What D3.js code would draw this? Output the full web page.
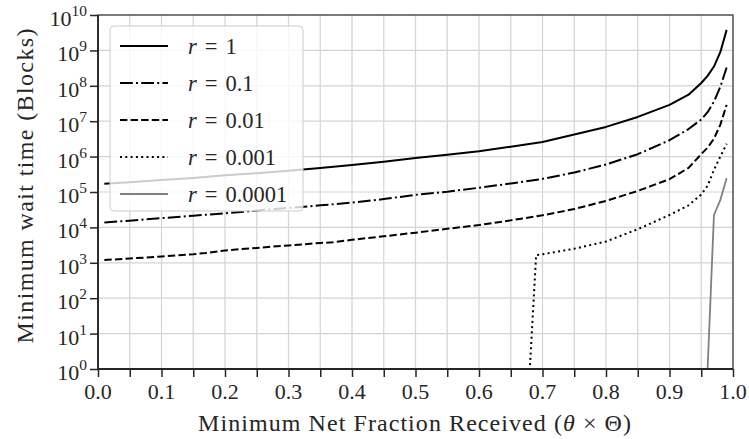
<!DOCTYPE html>
<html>
<head>
<meta charset="utf-8">
<script src="https://cdn.jsdelivr.net/npm/d3@7"></script>
<style>
  html, body { margin: 0; padding: 0; background: #fff; }
  svg { display: block; }
  text { font-family: "Liberation Serif", "DejaVu Serif", serif; fill: #262626; }
</style>
</head>
<body>
<svg id="chart" width="749" height="439"></svg>
<script>
// ---- Data ----
const xR1 = [0.01, 0.05, 0.1, 0.15, 0.2, 0.25, 0.3, 0.35, 0.4, 0.45, 0.5, 0.55, 0.6, 0.65, 0.7, 0.75, 0.8, 0.85, 0.9, 0.93, 0.95, 0.96, 0.97, 0.98, 0.99];
const yR1 = [1.7e5, 1.9e5, 2.2e5, 2.5e5, 2.95e5, 3.4e5, 4.0e5, 4.8e5, 5.75e5, 7.1e5, 9.1e5, 1.12e6, 1.41e6, 1.9e6, 2.6e6, 4.2e6, 6.9e6, 1.32e7, 2.9e7, 5.6e7, 1.2e8, 1.9e8, 3.5e8, 8.9e8, 3.8e9];

const xR01 = [0.01, 0.05, 0.1, 0.15, 0.2, 0.25, 0.3, 0.35, 0.4, 0.45, 0.5, 0.55, 0.6, 0.65, 0.7, 0.75, 0.8, 0.85, 0.9, 0.93, 0.95, 0.96, 0.97, 0.98, 0.99];
const yR01 = [1.38e4, 1.55e4, 1.82e4, 2.14e4, 2.5e4, 3.0e4, 3.55e4, 4.2e4, 5.0e4, 6.3e4, 8.3e4, 1.02e5, 1.32e5, 1.74e5, 2.35e5, 3.55e5, 6.0e5, 1.17e6, 2.9e6, 6.0e6, 1.12e7, 1.8e7, 3.55e7, 9.3e7, 3.3e8];

const xR001 = [0.01, 0.05, 0.1, 0.15, 0.17, 0.2, 0.25, 0.3, 0.35, 0.37, 0.4, 0.45, 0.5, 0.55, 0.6, 0.65, 0.7, 0.75, 0.8, 0.85, 0.9, 0.93, 0.95, 0.96, 0.97, 0.98, 0.99];
const yR001 = [1.2e3, 1.32e3, 1.51e3, 1.74e3, 1.9e3, 2.24e3, 2.63e3, 3.1e3, 3.63e3, 3.8e3, 4.47e3, 5.6e3, 7.1e3, 9.1e3, 1.17e4, 1.58e4, 2.2e4, 3.3e4, 5.6e4, 1.07e5, 2.3e5, 4.8e5, 1.17e6, 1.8e6, 3.2e6, 7.9e6, 2.9e7];

const xR0001 = [0.01, 0.68, 0.69, 0.7, 0.75, 0.8, 0.85, 0.9, 0.93, 0.95, 0.96, 0.97, 0.98, 0.99];
const yR0001 = [1, 1, 1.66e3, 1.74e3, 2.5e3, 4.0e3, 8.9e3, 2.24e4, 4.2e4, 8.5e4, 1.5e5, 4.2e5, 1.0e6, 2.3e6];

const xR00001 = [0.01, 0.96, 0.97, 0.98, 0.99];
const yR00001 = [1, 1, 2.24e4, 5.9e4, 2.45e5];

const seriesNames = ["1", "0.1", "0.01", "0.001", "0.0001"];
const xTickLabels = ["0.0", "0.1", "0.2", "0.3", "0.4", "0.5", "0.6", "0.7", "0.8", "0.9", "1.0"];
const yTickExps = [0, 1, 2, 3, 4, 5, 6, 7, 8, 9, 10];

// ---- Styles ----
const styles = [
  { color: "#000", width: 2, dash: null },
  { color: "#000", width: 2, dash: "12.8,3.2,2,3.2" },
  { color: "#000", width: 2, dash: "7.4,3.2" },
  { color: "#000", width: 2, dash: "2,3.3" },
  { color: "#808080", width: 1.8, dash: null }
];

const series = [
  { name: seriesNames[0], xs: xR1, ys: yR1 },
  { name: seriesNames[1], xs: xR01, ys: yR01 },
  { name: seriesNames[2], xs: xR001, ys: yR001 },
  { name: seriesNames[3], xs: xR0001, ys: yR0001 },
  { name: seriesNames[4], xs: xR00001, ys: yR00001 }
];

const svg = d3.select("#chart");
const L = 98, R = 733, T = 15, B = 369;

const x = d3.scaleLinear().domain([0, 1]).range([L, R]);
const y = d3.scaleLog().domain([1, 1e10]).range([B, T]);

// grid
const gridX = d3.range(0, 21).map(i => i * 0.05);
svg.append("g").selectAll("line").data(gridX).join("line")
  .attr("x1", d => x(d)).attr("x2", d => x(d))
  .attr("y1", T).attr("y2", B)
  .attr("stroke", "#d4d4d4").attr("stroke-width", 1.2);
svg.append("g").selectAll("line").data(yTickExps).join("line")
  .attr("x1", L).attr("x2", R)
  .attr("y1", d => y(Math.pow(10, d))).attr("y2", d => y(Math.pow(10, d)))
  .attr("stroke", "#d4d4d4").attr("stroke-width", 1.2);

// clip
svg.append("defs").append("clipPath").attr("id", "clip")
  .append("rect").attr("x", L).attr("y", T - 2).attr("width", R - L).attr("height", B - T + 2);

const line = d3.line().x(d => x(d[0])).y(d => y(d[1]));
const gl = svg.append("g").attr("clip-path", "url(#clip)");
series.forEach((s, i) => {
  const pts = s.xs.map((v, j) => [v, s.ys[j]]);
  gl.append("path").datum(pts)
    .attr("d", line)
    .attr("fill", "none")
    .attr("stroke", styles[i].color)
    .attr("stroke-width", styles[i].width)
    .attr("stroke-dasharray", styles[i].dash)
    .attr("stroke-linejoin", "round");
});

// spines
svg.append("rect").attr("x", L).attr("y", T).attr("width", R - L).attr("height", B - T)
  .attr("fill", "none").attr("stroke", "#333").attr("stroke-width", 1.2);
svg.append("line").attr("x1", L).attr("x2", L).attr("y1", T).attr("y2", B).attr("stroke", "#262626").attr("stroke-width", 1.8);
svg.append("line").attr("x1", L).attr("x2", R).attr("y1", B).attr("y2", B).attr("stroke", "#262626").attr("stroke-width", 1.8);

// x axis ticks
const xAxis = d3.axisBottom(x).tickValues(gridX).tickSize(8).tickFormat("");
const gx = svg.append("g").attr("transform", `translate(0,${B})`).call(xAxis);
gx.select(".domain").remove();
gx.selectAll(".tick line").attr("stroke", "#262626").attr("stroke-width", 1.5);
svg.append("g").selectAll("text").data(xTickLabels).join("text")
  .attr("x", (d, i) => x(i / 10)).attr("y", 399)
  .attr("text-anchor", "middle").attr("font-size", 22).text(d => d);

// y axis ticks
const yAxis = d3.axisLeft(y).tickValues(yTickExps.map(e => Math.pow(10, e))).tickSize(8).tickFormat("");
const gy = svg.append("g").attr("transform", `translate(${L},0)`).call(yAxis);
gy.select(".domain").remove();
gy.selectAll(".tick line").attr("stroke", "#262626").attr("stroke-width", 1.5);
const yl = svg.append("g").selectAll("text").data(yTickExps).join("text")
  .attr("x", 87).attr("y", d => y(Math.pow(10, d)) + 11)
  .attr("text-anchor", "end").attr("font-size", 22);
yl.append("tspan").text("10");
yl.append("tspan").attr("dy", -10).attr("font-size", 15.5).text(d => String(d));

// axis labels
const xl = svg.append("text").attr("x", (L + R) / 2 - 1).attr("y", 431)
  .attr("text-anchor", "middle").attr("font-size", 24)
  .attr("textLength", 433).attr("lengthAdjust", "spacing");
xl.append("tspan").text("Minimum Net Fraction Received (");
xl.append("tspan").attr("font-style", "italic").text("θ");
xl.append("tspan").text(" × Θ)");

svg.append("text").attr("transform", `translate(33,186) rotate(-90)`)
  .attr("text-anchor", "middle").attr("font-size", 24)
  .attr("textLength", 315).attr("lengthAdjust", "spacing")
  .text("Minimum wait time (Blocks)");

// legend
const lg = svg.append("g");
lg.append("rect").attr("x", 110).attr("y", 26).attr("width", 193).attr("height", 185)
  .attr("rx", 4).attr("fill", "#fff").attr("fill-opacity", 0.8)
  .attr("stroke", "#cccccc").attr("stroke-width", 1);
seriesNames.forEach((n, i) => {
  const yy = 46 + i * 37;
  lg.append("line").attr("x1", 120).attr("x2", 168).attr("y1", yy).attr("y2", yy)
    .attr("stroke", styles[i].color).attr("stroke-width", styles[i].width)
    .attr("stroke-dasharray", styles[i].dash);
  const t = lg.append("text").attr("x", 188).attr("y", yy + 8).attr("font-size", 22.5);
  t.append("tspan").attr("font-style", "italic").text("r");
  t.append("tspan").attr("dx", 8).text("=");
  t.append("tspan").attr("dx", 8).text(n);
});
</script>
</body>
</html>
